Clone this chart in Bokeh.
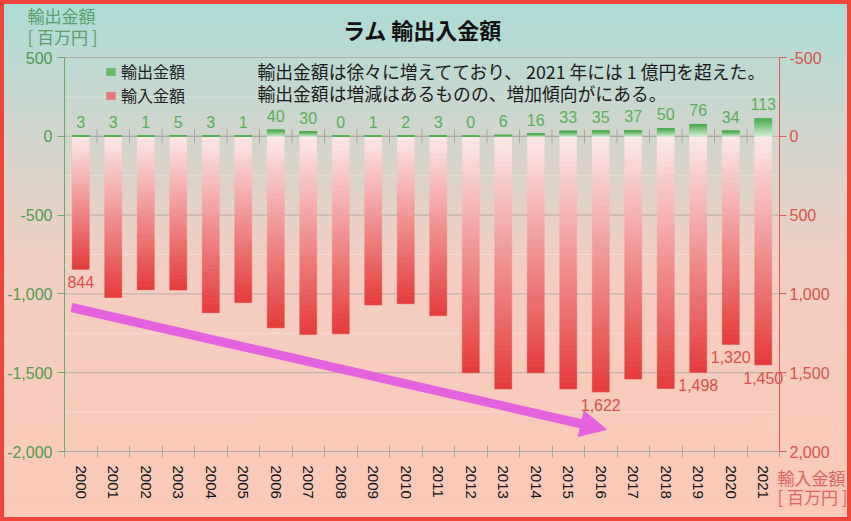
from bokeh.plotting import figure
from bokeh.models import (Range1d, LinearAxis, SingleIntervalTicker, FixedTicker,
                          NumeralTickFormatter, ColumnDataSource, Label, Arrow,
                          NormalHead, Legend, LegendItem)
from bokeh.core.properties import value
from bokeh.embed import file_html
from bokeh.resources import INLINE

# ---------------- data ----------------
years = list(range(2000, 2022))
exports = [3, 3, 1, 5, 3, 1, 40, 30, 0, 1, 2, 3, 0, 6, 16, 33, 35, 37, 50, 76, 34, 113]
imports = [844, 1023, 973, 975, 1119, 1055, 1215, 1257, 1253, 1070, 1062, 1138,
           1500, 1603, 1500, 1603, 1622, 1540, 1600, 1498, 1320, 1450]
import_label_years = [2000, 2016, 2019, 2020, 2021]
y_min, y_max, y_step = -2000, 500, 500
title_text = "ラム 輸出入金額"
note_lines = ["輸出金額は徐々に増えてており、 2021 年には 1 億円を超えた。",
              "輸出金額は増減はあるものの、増加傾向がにある。"]
left_unit = ["輸出金額", "[ 百万円 ]"]
right_unit = ["輸入金額", "[ 百万円 ]"]

# ---------------- page geometry (px) ----------------
PAGE_L, PAGE_T, PAGE_R, PAGE_B = 4, 4, 847, 517     # canvas edges on the page
AX_L, AX_R, AX_T, AX_B = 64, 779, 57, 451           # where the axes sit
CAT_PX = (AX_R - AX_L) / len(years)
Y_PX = (AX_B - AX_T) / (y_max - y_min)


def px2x(px):
    return (px - AX_L) / CAT_PX - 0.5


def px2y(py):
    return y_max - (py - AX_T) / Y_PX


def hex2rgb(h):
    h = h.lstrip("#")
    return tuple(int(h[i:i + 2], 16) for i in (0, 2, 4))


def lerp(c1, c2, t):
    a, b = hex2rgb(c1), hex2rgb(c2)
    return "#%02x%02x%02x" % tuple(int(round(a[i] + (b[i] - a[i]) * t)) for i in range(3))


JP = "Noto Sans CJK JP"
NUM = "Liberation Sans"

p = figure(width=PAGE_R - PAGE_L, height=PAGE_B - PAGE_T, output_backend="svg",
           toolbar_location=None, title=None,
           x_range=Range1d(px2x(PAGE_L), px2x(PAGE_R)),
           y_range=Range1d(px2y(PAGE_B), px2y(PAGE_T)),
           min_border=0)
p.styles = {"outline": "4px solid #f0463a",
            "background": "linear-gradient(180deg, #acdcd6 0%, #d3d5cc 27%, "
                          "#f3cec1 52%, #fdc9b8 100%)"}
p.background_fill_color = None
p.border_fill_color = None
p.outline_line_color = None

# ---------------- grid lines (bounded to the axes) ----------------
major = list(range(y_min, y_max + 1, y_step))
minor = [v + y_step // 2 for v in major[:-1]]
p.segment(x0=[-0.5] * len(minor), x1=[len(years) - 0.5] * len(minor), y0=minor, y1=minor,
          line_color="#ffffff", line_alpha=0.3, line_width=1, level="underlay")
p.segment(x0=[-0.5] * len(major), x1=[len(years) - 0.5] * len(major), y0=major, y1=major,
          line_color="#b4ada6", line_width=1, level="underlay")

# ---------------- gradient bars ----------------
N = 40
ex = dict(x=[], top=[], bottom=[], color=[])
im = dict(x=[], top=[], bottom=[], color=[])
for i, (e, m) in enumerate(zip(exports, imports)):
    for k in range(N):
        t = (k + 0.5) / N
        im["x"].append(i)
        im["top"].append(-m * k / N)
        im["bottom"].append(-m * (k + 1) / N)
        im["color"].append(lerp("#fdeaea", "#e53a3a", t))
        ex["x"].append(i)
        ex["bottom"].append(e * k / N)
        ex["top"].append(e * (k + 1) / N)
        ex["color"].append(lerp("#d6efd6", "#4cae4f", t))

r_im = p.vbar(x="x", top="top", bottom="bottom", width=0.52, source=ColumnDataSource(im),
              fill_color="color", line_color="color", line_width=0.6)
r_ex = p.vbar(x="x", top="top", bottom="bottom", width=0.52, source=ColumnDataSource(ex),
              fill_color="color", line_color="color", line_width=0.6)

p.scatter(x=[i + 0.5 for i in range(len(years) - 1)], y=[0] * (len(years) - 1),
          marker="cross", size=14, line_color="#a8a8a0", line_width=1)

# ---------------- value labels ----------------
p.text(x=list(range(len(years))), y=exports, text=[str(v) for v in exports],
       text_align="center", text_baseline="alphabetic", y_offset=-14,
       text_font=value(NUM), text_font_size="16px", text_color="#5aae5a")

lab_idx = [years.index(y) for y in import_label_years]
p.text(x=lab_idx, y=[-imports[i] for i in lab_idx],
       text=[f"{imports[i]:,}" for i in lab_idx],
       text_align="center", text_baseline="top", y_offset=7,
       text_font=value(NUM), text_font_size="16px", text_color="#e0504a")

# ---------------- axes ----------------
p.xgrid.visible = False
p.ygrid.visible = False

yax = p.yaxis[0]
yax.fixed_location = -0.5
yax.bounds = (y_min, y_max)
yax.ticker = SingleIntervalTicker(interval=y_step)
yax.formatter = NumeralTickFormatter(format="0,0")
yax.axis_line_color = "#6aaa6a"
yax.major_tick_line_color = "#6aaa6a"
yax.major_tick_out = 7
yax.major_tick_in = 0
yax.minor_tick_line_color = None
yax.major_label_text_color = "#4f9a4f"
yax.major_label_text_font = NUM
yax.major_label_text_font_size = "16px"
yax.major_label_standoff = 5

p.extra_y_ranges = {"imp": Range1d(start=-px2y(PAGE_B), end=-px2y(PAGE_T))}
rax = LinearAxis(y_range_name="imp", ticker=SingleIntervalTicker(interval=y_step),
                 formatter=NumeralTickFormatter(format="0,0"))
rax.fixed_location = len(years) - 0.5
rax.bounds = (-y_max, -y_min)
rax.axis_line_color = "#e05a55"
rax.major_tick_line_color = "#e05a55"
rax.major_tick_out = 7
rax.major_tick_in = 0
rax.minor_tick_line_color = None
rax.major_label_text_color = "#d9534f"
rax.major_label_text_font = NUM
rax.major_label_text_font_size = "16px"
rax.major_label_standoff = 3
p.add_layout(rax, "right")

xax = p.xaxis[0]
xax.fixed_location = y_min
xax.bounds = (-0.5, len(years) - 0.5)
xax.ticker = FixedTicker(ticks=list(range(len(years))),
                         minor_ticks=[i - 0.5 for i in range(len(years) + 1)])
xax.major_label_overrides = {i: str(y) for i, y in enumerate(years)}
xax.major_label_orientation = "vertical"
xax.major_label_text_font = NUM
xax.major_label_text_font_size = "15px"
xax.major_label_text_color = "#111111"
xax.major_tick_line_color = None
xax.major_tick_out = 0
xax.major_tick_in = 0
xax.major_label_standoff = 8
xax.minor_tick_line_color = "#a8a8a0"
xax.minor_tick_in = 6
xax.minor_tick_out = 6
xax.axis_line_color = "#a8a8a0"

# ---------------- legend ----------------
legend = Legend(items=[LegendItem(label="輸出金額", renderers=[r_ex], index=N * 21 + N - 8),
                       LegendItem(label="輸入金額", renderers=[r_im], index=N * 0 + 2 * N // 3)],
                location=(101, 410), glyph_width=11, glyph_height=9,
                label_text_font=JP, label_text_font_size="16px", label_text_color="#222222",
                label_standoff=5, label_height=24, spacing=0, padding=3, margin=0,
                background_fill_alpha=0, border_line_color=None)
p.add_layout(legend, "center")

# ---------------- texts ----------------
p.add_layout(Label(x=px2x(422), y=px2y(28), text=title_text, text_align="center",
                   text_baseline="middle", text_font=JP, text_font_size="22px",
                   text_font_style="bold", text_color="#111111"))
for j, line in enumerate(note_lines):
    p.add_layout(Label(x=px2x(257), y=px2y(70 + 22 * j), text=line, text_align="left",
                       text_baseline="middle", text_font=JP, text_font_size="17.8px",
                       text_color="#1a1a1a"))
for j, t in enumerate(left_unit):
    p.add_layout(Label(x=px2x(27), y=px2y(15 + 21 * j), text=t, text_align="left",
                       text_baseline="middle", text_font=JP, text_font_size="17px",
                       text_color="#5c9e6c"))
for j, t in enumerate(right_unit):
    p.add_layout(Label(x=px2x(777), y=px2y(477 + 19 * j), text=t, text_align="left",
                       text_baseline="middle", text_font=JP, text_font_size="17px",
                       text_color="#e06560"))

# trend arrow
p.add_layout(Arrow(end=NormalHead(size=26, fill_color="#e462de", line_color="#e462de"),
                   x_start=px2x(71), y_start=px2y(307), x_end=px2x(606), y_end=px2y(429),
                   line_color="#e462de", line_width=9))

html = file_html(p, INLINE)
html = html.replace("</head>", "<style>html {padding: 0 !important; margin: 0 !important;} "
                    "body {padding: 4px !important; margin: 0 !important; "
                    "box-sizing: border-box !important;}</style></head>", 1)
open("out.html", "w").write(html)
